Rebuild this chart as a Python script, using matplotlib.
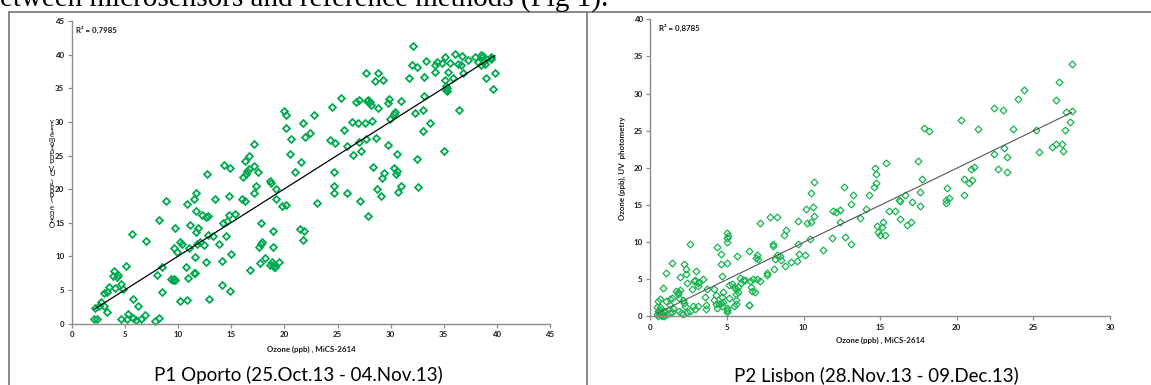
import numpy as np
import matplotlib
matplotlib.use("Agg")
import matplotlib.pyplot as plt
from matplotlib.lines import Line2D

# P1 Oporto: MiCS-2614 vs reference ozone (ppb)
p1_x = [8.85, 10.8, 11.5, 11.7, 12.7, 11.7, 13.5, 14.3, 14.9, 14.8, 16.0, 16.3, 16.1, 16.4, 16.5, 16.7,
        16.3, 16.7, 17.1, 17.5, 17.1, 17.3, 17.1, 18.6, 18.7, 19.2, 19.2, 19.8, 20.1, 20.0, 20.1, 20.1,
        20.6, 20.5, 21.0, 21.6, 21.7,
        8.16, 5.62, 6.97, 9.7, 11.1, 11.7, 11.9, 12.2, 12.6, 12.8, 14.75, 15.3, 14.6, 14.2, 17.8, 21.5,
        9.6, 9.9, 10.2, 10.4, 11.0, 11.8, 12.05, 12.4, 12.8, 13.3, 13.8, 14.5, 11.6, 12.6, 10.7, 10.95,
        11.5, 11.6, 9.35, 9.5, 9.6, 9.7, 8.5, 7.97, 8.45, 10.2, 10.8, 12.9, 14.15, 14.97, 14.15, 14.9,
        16.8, 17.7, 18.2, 17.6, 17.8, 17.85, 18.9, 18.95, 18.6, 18.8, 18.95, 19.1, 19.0, 19.5,
        2.1, 2.4, 2.17, 2.7, 2.57, 3.0, 3.27, 3.05, 3.27, 3.48, 4.05, 3.95, 3.9, 4.2, 4.36, 4.6, 4.77,
        5.08, 5.7, 6.2, 4.65, 5.15, 5.27, 5.75, 6.06, 6.5, 6.85, 7.85, 8.2,
        32.1, 36.1, 36.7, 35.1, 38.5, 38.7, 38.6, 37.9, 39.4, 39.4, 37.3, 38.2, 38.8, 38.5, 38.9, 33.3,
        32.0, 32.5, 34.15, 34.4, 34.8, 35.6, 36.3, 36.6, 34.2, 35.4, 36.85, 33.1, 31.7, 35.9, 35.1, 38.95,
        39.8, 39.6, 35.2, 35.2, 35.3, 35.35, 33.1, 36.4, 33.0, 32.3, 33.7, 33.05, 35.0, 32.45,
        27.65, 28.8, 28.5, 29.3, 25.3, 24.5, 26.7, 27.0, 27.9, 28.1, 27.8, 28.15, 28.8, 29.75, 29.85,
        30.95, 30.4, 30.3, 29.9, 26.4, 26.9, 27.55, 28.2, 25.6, 28.6, 27.7, 27.0, 25.9, 24.3, 24.8, 27.2,
        26.5, 29.75, 30.6, 28.3, 30.35, 30.6, 30.5, 29.4, 29.2, 24.7, 31.0, 32.6, 30.7, 28.7, 29.1, 24.7,
        24.7, 25.9, 27.1, 23.1, 27.85, 22.75, 21.9, 22.4, 21.8, 21.75]
p1_y = [18.3, 17.8, 18.5, 19.4, 22.2, 16.7, 18.6, 23.6, 23.2, 19.0, 18.6, 18.2, 21.8, 22.2, 22.7, 23.0,
        24.2, 25.0, 23.5, 22.5, 26.7, 20.5, 19.5, 21.2, 20.9, 20.0, 18.6, 17.5, 17.7, 31.6, 31.1, 29.1,
        27.4, 25.2, 22.6, 24.0, 29.9,
        15.4, 13.3, 12.3, 14.2, 14.6, 13.6, 14.3, 16.1, 15.9, 16.0, 16.2, 16.3, 15.2, 15.0, 15.0, 14.1,
        11.3, 10.65, 12.1, 11.8, 11.2, 11.9, 12.1, 11.65, 13.2, 13.0, 11.9, 13.0, 9.95, 9.1, 8.4, 6.85,
        7.6, 7.5, 6.7, 6.5, 6.6, 6.45, 8.5, 7.3, 4.76, 3.37, 3.57, 3.67, 9.27, 10.3, 5.7, 4.9,
        7.98, 8.97, 9.8, 11.45, 11.9, 12.1, 11.45, 13.8, 8.7, 9.1, 8.7, 8.5, 8.4, 9.2,
        0.7, 0.65, 2.3, 3.2, 2.6, 2.6, 1.74, 4.55, 4.7, 5.4, 5.35, 7.8, 7.1, 6.9, 7.2, 5.85, 5.1,
        8.6, 3.6, 2.6, 0.75, 0.75, 1.44, 0.8, 0.6, 0.75, 1.3, 0.45, 0.8,
        41.3, 40.1, 39.8, 39.7, 39.9, 39.8, 39.6, 39.6, 39.7, 39.4, 39.25, 38.9, 39.1, 38.5, 38.6, 39.1,
        38.4, 38.2, 38.4, 38.9, 38.7, 38.7, 38.55, 38.4, 37.4, 37.4, 37.3, 36.7, 36.6, 36.6, 36.2, 36.55,
        37.3, 34.9, 35.4, 34.8, 34.6, 35.0, 33.8, 31.75, 31.75, 31.3, 29.8, 28.7, 25.7, 24.5,
        37.3, 37.3, 36.1, 36.2, 33.6, 32.2, 32.9, 33.3, 33.3, 33.0, 33.1, 32.5, 32.1, 32.8, 33.4,
        33.1, 31.4, 31.2, 30.5, 29.95, 29.9, 29.9, 30.2, 28.8, 27.6, 27.5, 27.0, 26.4, 27.3, 26.9, 25.6,
        25.05, 26.5, 25.3, 23.3, 23.2, 22.7, 22.2, 22.35, 21.6, 22.5, 20.4, 20.3, 19.6, 20.0, 19.0, 20.5,
        19.4, 19.4, 18.3, 18.0, 15.95, 31.0, 27.8, 28.3, 13.8, 12.4]

# P2 Lisbon: MiCS-2614 vs UV photometry ozone (ppb)
p2_x = [10.68, 10.5, 10.63, 12.65, 13.2, 13.1, 10.15, 11.9, 12.15, 12.4, 14.3, 14.1,
        12.35, 11.85, 12.7, 13.1, 13.7, 11.3, 10.4, 10.2, 10.5, 10.68, 9.65, 9.65, 10.1, 9.7, 9.6, 9.2,
        8.7, 8.87, 7.8, 8.3, 7.18, 7.98, 8.0, 8.25, 8.15, 8.46, 8.55, 8.07, 8.8, 7.6, 7.6, 7.14, 6.94,
        6.68, 6.94, 6.9, 7.0, 6.44, 6.5, 6.57, 6.83, 6.65, 6.42, 6.45, 5.85, 6.05, 5.68, 4.98, 5.09, 5.02,
        4.98, 4.6, 4.33, 4.98, 4.6, 4.68, 5.15, 5.3, 5.46, 5.57, 5.7, 5.74, 5.6, 5.92, 6.18, 5.15, 5.6,
        5.57, 5.48, 4.98, 5.0, 4.98, 4.76, 4.66, 4.17, 4.26, 4.35, 4.46, 4.59, 4.76, 4.7, 4.17, 4.3,
        3.72, 3.57, 3.63, 3.61, 3.44, 3.18, 2.98, 3.09, 2.92, 2.85, 3.09, 2.72, 3.09, 2.92, 2.79, 2.59,
        2.59, 2.35, 2.37, 2.18, 2.33, 2.15, 2.18, 2.26, 2.41, 2.15, 1.92, 1.94, 1.79, 1.79, 1.68, 1.42,
        1.04, 1.85, 1.27, 1.4, 0.85, 1.04, 0.65, 0.5, 0.46, 0.65, 1.27, 1.5, 1.4, 1.87, 2.0, 1.28,
        0.48, 0.59, 0.68, 0.52, 0.63, 0.78, 0.91, 0.87, 0.46, 0.74, 1.07, 0.98,
        27.5, 26.7, 26.5, 27.1, 27.5, 27.4, 27.05, 25.2, 24.4, 24.0, 22.45, 23.0, 23.7, 21.4, 20.25,
        17.85, 18.2, 26.2, 26.5, 26.85, 26.95, 25.35, 23.05, 22.45, 23.25, 22.7, 23.3, 20.95, 21.1,
        20.5, 20.98, 20.8, 20.45, 19.35, 19.3, 19.3, 19.5, 17.5, 17.75, 17.6, 17.6, 17.1, 16.3, 16.2,
        16.6, 16.0, 15.6, 15.4, 14.65, 14.7, 14.75, 14.6,
        15.2, 15.1, 14.8, 14.85, 14.98, 15.3, 16.3, 16.75, 17.0]
p2_y = [18.1, 16.6, 14.7, 17.4, 16.3, 15.1, 14.4, 14.2, 14.0, 14.3, 16.4, 14.4,
        12.7, 10.5, 10.7, 9.7, 13.2, 8.9, 10.4, 12.5, 12.65, 13.5, 12.9, 9.8, 8.25, 8.4, 7.45, 7.27,
        11.0, 11.65, 13.35, 13.35, 12.6, 9.8, 9.45, 8.3, 7.7, 8.1, 7.6, 6.4, 6.8, 5.8, 5.55, 4.8, 5.07,
        5.07, 8.25, 7.9, 7.67, 8.8, 4.75, 3.9, 3.3, 3.36, 1.5, 1.55, 5.2, 4.9, 8.1, 11.25, 10.85, 10.6,
        10.0, 8.4, 9.4, 7.17, 7.04, 5.4, 4.2, 4.4, 3.9, 3.7, 3.9, 3.27, 3.0, 4.44, 4.89, 2.42, 2.2,
        1.65, 1.39, 1.12, 0.85, 0.58, 3.3, 2.6, 2.2, 1.7, 1.08, 1.66, 1.8, 1.88, 1.39, 3.67, 2.87,
        3.63, 2.56, 1.57, 0.98, 5.0, 4.57, 6.1, 4.48, 4.89, 4.75, 4.1, 3.63, 1.39, 0.98, 1.39, 0.71,
        9.8, 5.65, 4.44, 7.04, 6.4, 2.2, 1.75, 1.39, 0.54, 0.31, 5.33, 3.54, 3.3, 2.96, 3.4, 7.2,
        5.83, 2.4, 2.29, 2.5, 3.85, 2.06, 2.33, 2.06, 1.3, 1.2, 1.5, 1.16, 0.62, 0.71, 0.4, 0.4,
        0.71, 0.49, 0.17, 0.09, 0.85, 0.4, 0.58, 0.09, 0.31, 0.0, 0.27, 0.76,
        34.0, 31.5, 29.15, 27.5, 27.7, 26.2, 25.1, 25.1, 30.5, 29.2, 28.0, 27.8, 25.2, 25.2, 26.5,
        25.3, 24.9, 22.8, 23.15, 23.15, 22.3, 22.1, 22.6, 21.85, 21.5, 19.9, 19.4, 19.9, 20.1,
        18.5, 18.3, 18.0, 16.3, 17.3, 15.65, 15.2, 16.0, 20.9, 18.5, 16.7, 14.9, 15.4, 15.5, 15.6,
        16.3, 14.2, 14.2, 20.7, 19.95, 19.2, 18.0, 17.4,
        12.7, 12.0, 12.2, 11.4, 11.0, 11.0, 13.05, 12.3, 12.7]

# linear trend lines (slope, intercept) and their R² labels
p1_fit = (1.0, 0.05)
p2_fit = (1.0, -0.05)
p1_r2 = "R² = 0,7985"
p2_r2 = "R² = 0,8785"

p1_ticks = [0, 5, 10, 15, 20, 25, 30, 35, 40, 45]
p2_xticks = [0, 5, 10, 15, 20, 25, 30]
p2_yticks = [0, 5, 10, 15, 20, 25, 30, 35, 40]

xlabel = "Ozone (ppb) , MiCS-2614"
ylabel = "Ozone (ppb), UV  photometry"
p1_caption = "P1 Oporto (25.Oct.13 - 04.Nov.13)"
p2_caption = "P2 Lisbon (28.Nov.13 - 09.Dec.13)"
header = "etween microsensors and reference methods (Fig 1)."

W, H = 1151, 385
fig = plt.figure(figsize=(W / 100, H / 100), dpi=100)


def box(x0, x1, ytop, ybot):
    return [x0 / W, 1 - ybot / H, (x1 - x0) / W, (ybot - ytop) / H]


small = dict(family="Lato", fontsize=5.7, fontweight="bold", color="#1a1a1a")


def style(ax, xt, yt):
    for s in ("top", "right"):
        ax.spines[s].set_visible(False)
    for s in ("left", "bottom"):
        ax.spines[s].set_color("#8c8c8c")
        ax.spines[s].set_linewidth(1.0)
    ax.set_xlim(xt[0], xt[-1])
    ax.set_ylim(yt[0], yt[-1])
    ax.set_xticks(xt)
    ax.set_yticks(yt)
    ax.tick_params(direction="out", length=3, width=0.9, color="#8c8c8c", pad=2.5)
    for lab in ax.get_xticklabels() + ax.get_yticklabels():
        lab.set(**small)


ax1 = fig.add_axes(box(72, 550, 21, 323.7))
style(ax1, p1_ticks, p1_ticks)
ax1.plot(p1_x, p1_y, "D", mfc="none", mec="#00a94f", ms=3.5, mew=1.3, clip_on=False)
lx = np.array([min(p1_x), max(p1_x)])
ax1.plot(lx, p1_fit[0] * lx + p1_fit[1], color="black", lw=0.9)
ax1.text(0.009, 0.985, p1_r2, transform=ax1.transAxes, ha="left", va="top", **small)
ax1.set_xlabel(xlabel, labelpad=5, **small)

ax2 = fig.add_axes(box(650.3, 1110, 19.3, 316.3))
style(ax2, p2_xticks, p2_yticks)
ax2.plot(p2_x, p2_y, "D", mfc="none", mec="#16b450", ms=3.5, mew=0.9, clip_on=False)
lx = np.array([min(p2_x), max(p2_x)])
ax2.plot(lx, p2_fit[0] * lx + p2_fit[1], color="#555555", lw=0.8)
ax2.text(0.02, 0.985, p2_r2, transform=ax2.transAxes, ha="left", va="top", **small)
ax2.set_xlabel(xlabel, labelpad=4, **small)
ax2.set_ylabel(ylabel, labelpad=5, **small)

# left panel's axis title comes out as stacked glyphs
stack = "Ozone (ppb) UV photometry"
for i, ch in enumerate(stack):
    fig.text(52 / W, 1 - (225 - i * 4.3) / H, ch, ha="center", va="center",
             family="Lato", fontsize=5.5, color="black")

fig.text(298 / W, 1 - 375 / H, p1_caption, ha="center", va="center",
         family="Lato", fontsize=13.5, color="black")
fig.text(876 / W, 1 - 375 / H, p2_caption, ha="center", va="center",
         family="Lato", fontsize=13.5, color="black")
fig.text(0, 1 - 7 / H, header, ha="left", va="baseline",
         family="Liberation Serif", fontsize=21, color="black")

# panel frames
frame = dict(color="#808080", lw=1.3, transform=fig.transFigure)
fig.add_artist(Line2D([9 / W, 9 / W], [0, 1 - 12 / H], **frame))
fig.add_artist(Line2D([587 / W, 587 / W], [0, 1 - 12 / H], **frame))
fig.add_artist(Line2D([9 / W, 1], [1 - 12 / H, 1 - 12 / H], **frame))

fig.savefig("out.png", dpi=100)
